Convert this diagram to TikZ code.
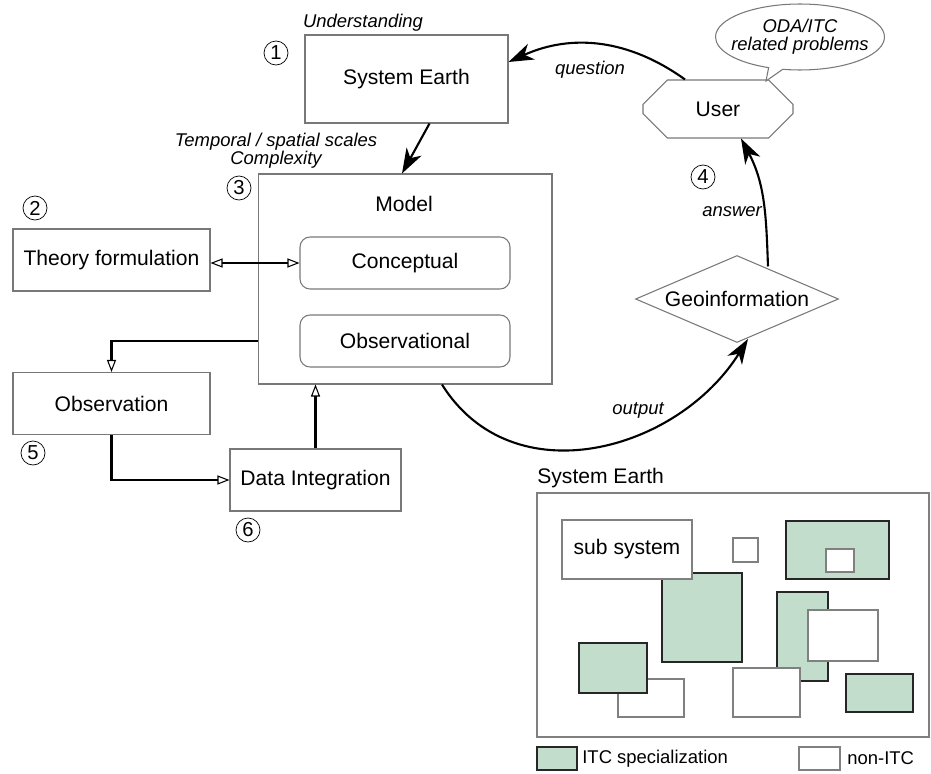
\documentclass[tikz,border=0pt]{standalone}
\usepackage{fontspec}
\setmainfont{Liberation Sans}
\usepackage{tikz}
\usetikzlibrary{arrows.meta,shapes.geometric,shapes.misc,shapes.callouts}

\definecolor{itcgreen}{RGB}{194,221,203}
\definecolor{edgegray}{RGB}{120,120,120}

\tikzset{
	box/.style={draw=edgegray,line width=0.6pt,fill=white,font=\fontsize{12}{14}\selectfont,inner sep=0pt},
	sub/.style={box,rounded corners=0.2cm,minimum width=4.2cm,minimum height=1.04cm},
	num/.style={draw,circle,minimum size=0.48cm,inner sep=0pt,font=\fontsize{11.5}{12}\selectfont},
	lbl/.style={font=\fontsize{10.5}{10.5}\selectfont\itshape,inner sep=0pt},
	tri/.tip={Triangle[open,line width=0.6pt,length=0.24cm,width=0.18cm]},
	flow/.style={line width=1.2pt,-{Stealth[length=0.5cm,width=0.34cm,inset=0.15cm]}},
	link/.style={line width=1.2pt,-tri},
	itc/.style={draw=black!85,line width=0.6pt,fill=itcgreen},
	nonitc/.style={draw=black!50,line width=0.6pt,fill=white},
}

\begin{document}
\begin{tikzpicture}[x=0.02cm,y=0.02cm]
		\useasboundingbox (0,0) rectangle (931,-774);
		
		\node[box,minimum width=4.06cm,minimum height=1.76cm](earth)at(406.5,-79) {System Earth};
		\node[box,minimum width=5.88cm,minimum height=4.2cm](model)at(405,-279) {};
		\node[font=\fontsize{12}{14}\selectfont,inner sep=0pt](modeltxt)at(404,-204) {Model};
		\node[sub](concept)at(405,-263) {Conceptual};
		\node[sub](obsm)at(405,-341) {Observational};
		\node[box,minimum width=3.94cm,minimum height=1.24cm](theory)at(111.5,-260) {Theory formulation};
		\node[box,minimum width=3.94cm,minimum height=1.24cm](observ)at(111.5,-403.5) {Observation};
		\node[box,minimum width=3.42cm,minimum height=1.24cm](dataint)at(315.5,-480) {Data Integration};
		\node[box,chamfered rectangle,chamfered rectangle xsep=0.84cm,chamfered rectangle ysep=0.34cm,minimum width=3cm,minimum height=1.16cm](user)at(718,-109) {User};
		\node[box,diamond,shape aspect=2.3,minimum width=4.06cm,minimum height=1.74cm](geo)at(737,-299) {Geoinformation};
		
		\coordinate(tip)at(766,-81);
		\node[draw=edgegray,line width=0.6pt,fill=white,ellipse callout,callout absolute pointer=(tip),callout pointer arc=10,lbl,align=center,inner xsep=-0.18cm,inner ysep=0.1cm,minimum width=3.38cm,minimum height=1.32cm](bubble)at(800,-37) {ODA/ITC\\related problems};
		
		\node[num](n1)at(276,-53) {1};
		\node[num](n2)at(35,-208) {2};
		\node[num](n3)at(239,-188) {3};
		\node[num](n4)at(703,-177) {4};
		\node[num](n5)at(33,-453) {5};
		\node[num](n6)at(248,-530) {6};
		
		\node[lbl](und)at(363,-23) {Understanding};
		\node[lbl,align=center](scales)at(276,-151) {Temporal / spatial scales\\Complexity};
		\node[lbl](quest)at(590,-70) {question};
		\node[lbl](answ)at(732,-212) {answer};
		\node[lbl](outp)at(638,-410) {output};
		
		\draw[flow]([xshift=0.46cm]earth.south) -- ([xshift=-0.06cm]model.north);
		\draw[flow]([xshift=-0.66cm]user.north) to[bend right=30] ([yshift=0.34cm]earth.east);
		\draw[flow]([xshift=0.62cm,yshift=-0.23cm]geo.north) to[out=92,in=-62] ([xshift=0.46cm]user.south);
		\draw[flow]([xshift=0.74cm]model.south) to[out=-58,in=-122,looseness=1.1] ([xshift=0.22cm,yshift=0.08cm]geo.south);
		
		\draw[link,tri-tri](theory.east |- concept.west) -- (concept.west);
		\draw[link](model.west |- obsm.west) -| (observ.north);
		\draw[link](observ.south) |- (dataint.west);
		\draw[link](dataint.north) -- (dataint.north |- model.south);
		
		% system earth inset
		\node[anchor=west,font=\fontsize{12}{14}\selectfont,inner sep=0pt](insettitle)at(537,-478) {System Earth};
		\draw[nonitc](537,-493) rectangle (929,-737);
		\draw[nonitc](618,-679) rectangle (684,-717);
		\draw[itc](579,-643) rectangle (647,-693);
		\draw[itc](662,-573) rectangle (742,-662);
		\node[box,draw=black!50,minimum width=2.6cm,minimum height=1.18cm](subsys)at(627,-549.5) {sub system};
		\draw[nonitc](733,-538) rectangle (758,-562);
		\draw[itc](786,-521) rectangle (889,-579);
		\draw[nonitc](826,-549) rectangle (854,-572);
		\draw[itc](777,-592) rectangle (828,-681);
		\draw[nonitc](808,-610) rectangle (878,-661);
		\draw[nonitc](733,-668) rectangle (800,-717);
		\draw[itc](846,-674) rectangle (913,-712);
		
		\draw[itc](537,-747) rectangle (577,-770);
		\node[anchor=west,font=\fontsize{10.5}{12}\selectfont,inner sep=0pt](lgitc)at(582,-758.5) {ITC specialization};
		\draw[nonitc](799,-747) rectangle (840,-770);
		\node[anchor=west,font=\fontsize{10.5}{12}\selectfont,inner sep=0pt](lgnon)at(847,-758.5) {non-ITC};
	\end{tikzpicture}
\end{document}
